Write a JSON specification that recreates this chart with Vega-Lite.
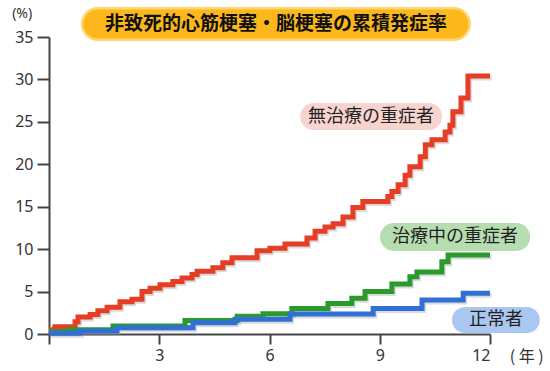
{
  "$schema": "https://vega.github.io/schema/vega-lite/v6.json",
  "autosize": "none",
  "width": 441,
  "height": 297,
  "padding": {"left": 49, "top": 37, "right": 60, "bottom": 37},
  "background": "white",
  "config": {
    "view": {"stroke": null},
    "axis": {
      "grid": false,
      "domainColor": "#444444",
      "domainWidth": 2,
      "tickColor": "#444444",
      "tickWidth": 2,
      "labelFont": "Noto Sans",
      "labelFontSize": 16,
      "labelColor": "#333333",
      "title": null
    }
  },
  "datasets": {
    "curves": [
      {"series": "無治療の重症者", "t": 0, "v": 0.5},
      {"series": "無治療の重症者", "t": 0.16, "v": 0.86},
      {"series": "無治療の重症者", "t": 0.71, "v": 1.45},
      {"series": "無治療の重症者", "t": 0.79, "v": 2.0},
      {"series": "無治療の重症者", "t": 1.12, "v": 2.3},
      {"series": "無治療の重症者", "t": 1.33, "v": 2.75},
      {"series": "無治療の重症者", "t": 1.58, "v": 3.15},
      {"series": "無治療の重症者", "t": 1.93, "v": 3.8},
      {"series": "無治療の重症者", "t": 2.26, "v": 4.1},
      {"series": "無治療の重症者", "t": 2.53, "v": 5.0},
      {"series": "無治療の重症者", "t": 2.75, "v": 5.4},
      {"series": "無治療の重症者", "t": 3.02, "v": 5.8},
      {"series": "無治療の重症者", "t": 3.37, "v": 6.2},
      {"series": "無治療の重症者", "t": 3.62, "v": 6.6},
      {"series": "無治療の重症者", "t": 3.89, "v": 7.0},
      {"series": "無治療の重症者", "t": 4.03, "v": 7.4},
      {"series": "無治療の重症者", "t": 4.46, "v": 7.8},
      {"series": "無治療の重症者", "t": 4.73, "v": 8.4},
      {"series": "無治療の重症者", "t": 4.98, "v": 9.0},
      {"series": "無治療の重症者", "t": 5.66, "v": 9.8},
      {"series": "無治療の重症者", "t": 6.01, "v": 10.1},
      {"series": "無治療の重症者", "t": 6.42, "v": 10.6},
      {"series": "無治療の重症者", "t": 7.02, "v": 11.3},
      {"series": "無治療の重症者", "t": 7.24, "v": 12.1},
      {"series": "無治療の重症者", "t": 7.51, "v": 12.6},
      {"series": "無治療の重症者", "t": 7.73, "v": 13.0},
      {"series": "無治療の重症者", "t": 8.0, "v": 13.8},
      {"series": "無治療の重症者", "t": 8.27, "v": 14.9},
      {"series": "無治療の重症者", "t": 8.54, "v": 15.6},
      {"series": "無治療の重症者", "t": 9.22, "v": 16.2},
      {"series": "無治療の重症者", "t": 9.33, "v": 16.8},
      {"series": "無治療の重症者", "t": 9.5, "v": 17.6},
      {"series": "無治療の重症者", "t": 9.69, "v": 18.7},
      {"series": "無治療の重症者", "t": 9.82, "v": 19.7},
      {"series": "無治療の重症者", "t": 10.1, "v": 20.9},
      {"series": "無治療の重症者", "t": 10.24, "v": 22.3},
      {"series": "無治療の重症者", "t": 10.42, "v": 22.9},
      {"series": "無治療の重症者", "t": 10.78, "v": 23.8},
      {"series": "無治療の重症者", "t": 10.91, "v": 24.6},
      {"series": "無治療の重症者", "t": 10.99, "v": 26.2},
      {"series": "無治療の重症者", "t": 11.21, "v": 27.8},
      {"series": "無治療の重症者", "t": 11.4, "v": 30.4},
      {"series": "無治療の重症者", "t": 12, "v": 30.4},
      {"series": "治療中の重症者", "t": 0, "v": 0.3},
      {"series": "治療中の重症者", "t": 0.52, "v": 0.5},
      {"series": "治療中の重症者", "t": 1.74, "v": 0.95},
      {"series": "治療中の重症者", "t": 3.7, "v": 1.6},
      {"series": "治療中の重症者", "t": 5.12, "v": 2.1},
      {"series": "治療中の重症者", "t": 5.82, "v": 2.4},
      {"series": "治療中の重症者", "t": 6.61, "v": 3.0},
      {"series": "治療中の重症者", "t": 7.59, "v": 3.6},
      {"series": "治療中の重症者", "t": 8.24, "v": 4.2},
      {"series": "治療中の重症者", "t": 8.6, "v": 5.0},
      {"series": "治療中の重症者", "t": 9.33, "v": 5.9},
      {"series": "治療中の重症者", "t": 9.82, "v": 6.75},
      {"series": "治療中の重症者", "t": 10.01, "v": 7.3},
      {"series": "治療中の重症者", "t": 10.69, "v": 8.5},
      {"series": "治療中の重症者", "t": 10.86, "v": 9.3},
      {"series": "治療中の重症者", "t": 12, "v": 9.3},
      {"series": "正常者", "t": 0, "v": 0.1},
      {"series": "正常者", "t": 0.84, "v": 0.35},
      {"series": "正常者", "t": 1.85, "v": 0.75},
      {"series": "正常者", "t": 3.92, "v": 1.33},
      {"series": "正常者", "t": 5.06, "v": 1.73},
      {"series": "正常者", "t": 6.56, "v": 2.36},
      {"series": "正常者", "t": 8.82, "v": 3.0},
      {"series": "正常者", "t": 10.15, "v": 4.0},
      {"series": "正常者", "t": 11.27, "v": 4.8},
      {"series": "正常者", "t": 12, "v": 4.8}
    ]
  },
  "layer": [
    {
      "data": {"values": [{}]},
      "mark": {"type": "rule", "strokeWidth": 34, "strokeCap": "round", "color": "#fdd66e", "clip": false},
      "encoding": {
        "x": {"datum": 1.33, "type": "quantitative", "scale": {"domain": [0, 12], "nice": false},
          "axis": {"values": [0, 3, 6, 9, 12], "tickSize": 10, "labelPadding": 3, "labelExpr": "datum.value == 0 ? '' : datum.label"}},
        "x2": {"datum": 11.02},
        "y": {"datum": 36.53, "type": "quantitative", "scale": {"domain": [0, 35], "nice": false},
          "axis": {"values": [0, 5, 10, 15, 20, 25, 30, 35], "tickSize": 12, "labelPadding": 4}}
      }
    },
    {
      "data": {"values": [{}]},
      "mark": {"type": "rule", "strokeWidth": 29, "strokeCap": "round", "color": "#fbb71b", "clip": false},
      "encoding": {
        "x": {"datum": 1.33, "type": "quantitative"},
        "x2": {"datum": 11.02},
        "y": {"datum": 36.53, "type": "quantitative"}
      }
    },
    {
      "data": {"values": [{}]},
      "mark": {"type": "text", "text": "非致死的心筋梗塞・脳梗塞の累積発症率", "font": "Noto Sans CJK JP", "fontWeight": "bold", "fontSize": 19, "color": "#111111", "align": "center", "baseline": "middle"},
      "encoding": {
        "x": {"datum": 6.18, "type": "quantitative"},
        "y": {"datum": 36.5, "type": "quantitative"}
      }
    },
    {
      "data": {"values": [{}]},
      "mark": {"type": "rule", "strokeWidth": 27, "strokeCap": "round", "color": "#f8d4d0"},
      "encoding": {
        "x": {"datum": 7.2, "type": "quantitative"},
        "x2": {"datum": 10.33},
        "y": {"datum": 25.63, "type": "quantitative"}
      }
    },
    {
      "data": {"values": [{}]},
      "mark": {"type": "rule", "strokeWidth": 28, "strokeCap": "round", "color": "#b6ddb0", "clip": false},
      "encoding": {
        "x": {"datum": 9.39, "type": "quantitative"},
        "x2": {"datum": 12.71},
        "y": {"datum": 11.43, "type": "quantitative"}
      }
    },
    {
      "data": {"values": [{}]},
      "mark": {"type": "rule", "strokeWidth": 26, "strokeCap": "round", "color": "#a9c7ef", "clip": false},
      "encoding": {
        "x": {"datum": 11.32, "type": "quantitative"},
        "x2": {"datum": 13.0},
        "y": {"datum": 1.65, "type": "quantitative"}
      }
    },
    {
      "data": {"name": "curves"},
      "mark": {"type": "line", "interpolate": "step-after", "strokeWidth": 5, "color": "#999999", "opacity": 0.35, "xOffset": 1.5, "yOffset": 2},
      "encoding": {
        "x": {"field": "t", "type": "quantitative"},
        "y": {"field": "v", "type": "quantitative"},
        "detail": {"field": "series"}
      }
    },
    {
      "data": {"name": "curves"},
      "mark": {"type": "line", "interpolate": "step-after", "strokeWidth": 5},
      "encoding": {
        "x": {"field": "t", "type": "quantitative"},
        "y": {"field": "v", "type": "quantitative"},
        "color": {"field": "series", "type": "nominal",
          "scale": {"domain": ["無治療の重症者", "治療中の重症者", "正常者"], "range": ["#e63d25", "#2b9a2c", "#2f6fd6"]},
          "legend": null}
      }
    },
    {
      "data": {"values": [{}]},
      "mark": {"type": "text", "text": "無治療の重症者", "font": "Noto Sans CJK JP", "fontSize": 18, "color": "#222222", "align": "center", "baseline": "middle"},
      "encoding": {
        "x": {"datum": 8.76, "type": "quantitative"},
        "y": {"datum": 25.6, "type": "quantitative"}
      }
    },
    {
      "data": {"values": [{}]},
      "mark": {"type": "text", "text": "治療中の重症者", "font": "Noto Sans CJK JP", "fontSize": 18, "color": "#222222", "align": "center", "baseline": "middle"},
      "encoding": {
        "x": {"datum": 11.05, "type": "quantitative"},
        "y": {"datum": 11.4, "type": "quantitative"}
      }
    },
    {
      "data": {"values": [{}]},
      "mark": {"type": "text", "text": "正常者", "font": "Noto Sans CJK JP", "fontSize": 18, "color": "#222222", "align": "center", "baseline": "middle"},
      "encoding": {
        "x": {"datum": 12.16, "type": "quantitative"},
        "y": {"datum": 1.62, "type": "quantitative"}
      }
    },
    {
      "data": {"values": [{}]},
      "mark": {"type": "text", "text": "(%)", "font": "Noto Sans", "fontSize": 14, "color": "#333333", "align": "center", "baseline": "middle"},
      "encoding": {
        "x": {"datum": -0.73, "type": "quantitative"},
        "y": {"datum": 37.71, "type": "quantitative"}
      }
    },
    {
      "data": {"values": [{}]},
      "mark": {"type": "text", "text": "( 年 )", "font": "Noto Sans CJK JP", "fontSize": 16, "color": "#333333", "align": "center", "baseline": "middle"},
      "encoding": {
        "x": {"datum": 13.0, "type": "quantitative"},
        "y": {"datum": -2.71, "type": "quantitative"}
      }
    }
  ]
}
